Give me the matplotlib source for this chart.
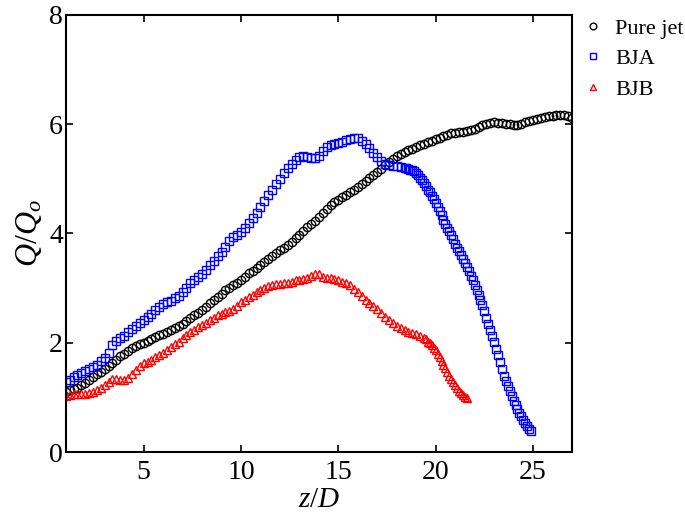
import numpy as np
import matplotlib
matplotlib.use('Agg')
import matplotlib.pyplot as plot

# Axial distance z/D for each series
zPure = np.round(np.arange(1.0, 27.01, 0.2), 1)
zBja = np.round(np.concatenate([np.arange(1.0, 18.41, 0.2), np.arange(18.5, 24.91, 0.1)]), 1)
zBjb = np.round(np.concatenate([np.arange(1.0, 19.41, 0.2), np.arange(19.5, 21.61, 0.1)]), 1)

# Q/Qo
qPure = [1.10, 1.13, 1.15, 1.17, 1.22,
         1.27, 1.31, 1.37, 1.42, 1.47,
         1.52, 1.57, 1.63, 1.69, 1.75,
         1.80, 1.85, 1.90, 1.94, 1.97,
         2.00, 2.03, 2.07, 2.11, 2.14,
         2.16, 2.19, 2.23, 2.27, 2.31,
         2.35, 2.40, 2.46, 2.51, 2.55,
         2.60, 2.66, 2.72, 2.78, 2.84,
         2.90, 2.96, 3.01, 3.05, 3.10,
         3.15, 3.21, 3.27, 3.32, 3.37,
         3.42, 3.47, 3.53, 3.59, 3.65,
         3.70, 3.74, 3.79, 3.85, 3.91,
         3.97, 4.04, 4.11, 4.17, 4.23,
         4.30, 4.37, 4.45, 4.52, 4.57,
         4.62, 4.66, 4.70, 4.75, 4.80,
         4.85, 4.90, 4.96, 5.02, 5.07,
         5.12, 5.18, 5.25, 5.31, 5.37,
         5.42, 5.46, 5.49, 5.52, 5.55,
         5.58, 5.61, 5.64, 5.67, 5.70,
         5.72, 5.75, 5.78, 5.81, 5.83,
         5.84, 5.85, 5.86, 5.88, 5.90,
         5.92, 5.95, 5.98, 6.01, 6.03,
         6.04, 6.03, 6.02, 6.01, 6.00,
         5.99, 5.99, 6.01, 6.04, 6.06,
         6.08, 6.10, 6.12, 6.14, 6.15,
         6.15, 6.16, 6.17, 6.17, 6.15,
         6.12]

qBja = [1.28, 1.32, 1.37, 1.41, 1.45,
        1.48, 1.52, 1.56, 1.60, 1.66,
        1.72, 1.82, 1.95, 2.03, 2.08,
        2.13, 2.19, 2.25, 2.31, 2.37,
        2.42, 2.47, 2.53, 2.60, 2.66,
        2.70, 2.74, 2.77, 2.81, 2.86,
        2.93, 3.01, 3.09, 3.15, 3.20,
        3.26, 3.34, 3.42, 3.50, 3.58,
        3.66, 3.76, 3.86, 3.94, 3.98,
        4.03, 4.10, 4.19, 4.28, 4.38,
        4.48, 4.59, 4.70, 4.80, 4.90,
        5.00, 5.10, 5.19, 5.28, 5.35,
        5.40, 5.41, 5.40, 5.38, 5.38,
        5.42, 5.51, 5.58, 5.61, 5.63,
        5.65, 5.68, 5.71, 5.73, 5.74,
        5.74, 5.70, 5.63, 5.56, 5.48,
        5.40, 5.33, 5.28, 5.25, 5.24,
        5.23, 5.22, 5.20,
        5.19, 5.18, 5.17, 5.16, 5.14, 5.11, 5.07, 5.02, 4.97, 4.92,
        4.86, 4.80, 4.75, 4.69, 4.63, 4.56, 4.48, 4.41, 4.33, 4.25,
        4.17, 4.10, 4.04, 3.97, 3.89, 3.81, 3.74, 3.67, 3.60, 3.53,
        3.46, 3.39, 3.31, 3.23, 3.14, 3.05, 2.96, 2.87, 2.78, 2.69,
        2.58, 2.46, 2.35, 2.24, 2.13, 2.01, 1.89, 1.77, 1.64, 1.52,
        1.40, 1.30, 1.20, 1.11, 1.02, 0.94, 0.86, 0.78, 0.71, 0.65,
        0.59, 0.53, 0.47, 0.42, 0.39]

qBjb = [1.02, 1.05, 1.06, 1.06, 1.07,
        1.07, 1.08, 1.10, 1.13, 1.17,
        1.22, 1.29, 1.34, 1.34, 1.32,
        1.32, 1.35, 1.42, 1.50, 1.57,
        1.62, 1.65, 1.69, 1.73, 1.77,
        1.82, 1.87, 1.92, 1.97, 2.02,
        2.08, 2.14, 2.20, 2.24, 2.28,
        2.32, 2.37, 2.42, 2.46, 2.50,
        2.53, 2.56, 2.58, 2.61, 2.68,
        2.74, 2.79, 2.83, 2.88, 2.93,
        2.97, 3.01, 3.04, 3.06, 3.07,
        3.08, 3.09, 3.10, 3.12, 3.14,
        3.15, 3.16, 3.19, 3.23, 3.26,
        3.25, 3.21, 3.19, 3.18, 3.17,
        3.15, 3.12, 3.09, 3.05, 2.99,
        2.93, 2.86, 2.79, 2.73, 2.67,
        2.61, 2.54, 2.48, 2.42, 2.36,
        2.31, 2.27, 2.23, 2.20, 2.18,
        2.16, 2.13, 2.09,
        2.06, 2.02, 1.99, 1.95, 1.91, 1.86, 1.80, 1.74, 1.67, 1.60,
        1.53, 1.46, 1.40, 1.34, 1.28, 1.22, 1.17, 1.12, 1.08, 1.04,
        1.01, 0.99]

seriesLabels = ['Pure jet', 'BJA', 'BJB']
xTicks = [5, 10, 15, 20, 25]
yTicks = [0, 2, 4, 6, 8]

plot.rcParams['font.family'] = ['Liberation Serif', 'DejaVu Serif']
plot.rcParams['mathtext.fontset'] = 'custom'
plot.rcParams['mathtext.rm'] = 'Liberation Serif'
plot.rcParams['mathtext.it'] = 'Liberation Serif:italic'

fig = plot.figure(figsize=(6.85, 5.14), dpi=100)
axis = fig.add_axes([0.096, 0.1206, 0.739, 0.8504])

markerStyle = dict(linestyle='none', markersize=6, markerfacecolor='none', markeredgewidth=1.0)
axis.plot(zPure, qPure, marker='o', markeredgecolor='black', label=seriesLabels[0], **markerStyle)
axis.plot(zBja, qBja, marker='s', markeredgecolor='blue', label=seriesLabels[1], **markerStyle)
axis.plot(zBjb, qBjb, marker='^', markeredgecolor='red', label=seriesLabels[2], **markerStyle)

axis.set_xlim(1, 27)
axis.set_ylim(0, 8)
axis.set_xticks(xTicks)
axis.set_yticks(yTicks)
axis.tick_params(direction='in', top=True, right=True, labelsize=20, width=1.2, length=5)
axis.tick_params(axis='x', pad=6)
axis.tick_params(axis='y', pad=2)
for spine in axis.spines.values():
    spine.set_linewidth(1.5)

axis.set_xlabel('$z/D$', fontsize=21, labelpad=1)
axis.set_ylabel('$Q/Q_o$', fontsize=23, labelpad=4)

fig.legend(loc='upper left', bbox_to_anchor=(0.8365, 0.982), frameon=False, fontsize=16,
           handlelength=1.0, handletextpad=0.5, borderaxespad=0, labelspacing=0.45,
           markerscale=0.8)

fig.savefig('out.png', dpi=100)
